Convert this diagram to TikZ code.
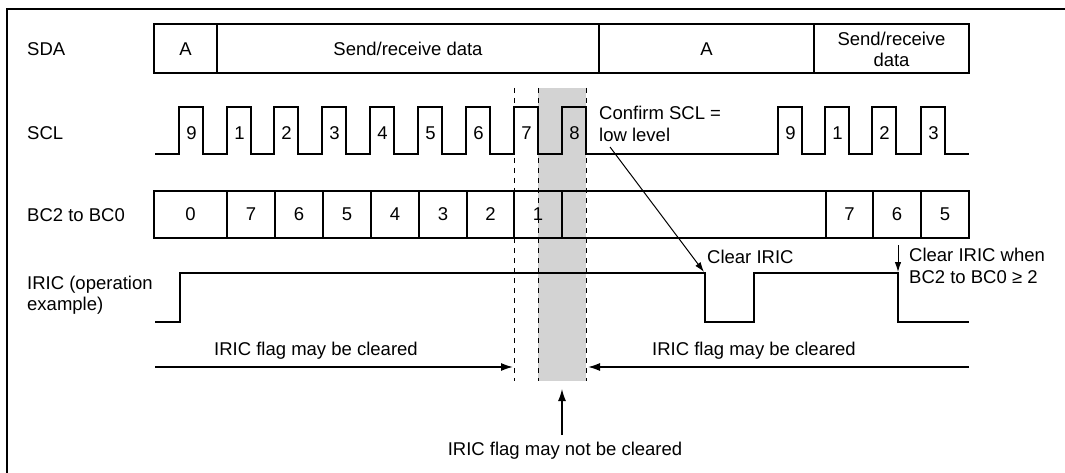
\documentclass[tikz,border=0pt]{standalone}
\usepackage{fontspec}
\setmainfont{Liberation Sans}
\usetikzlibrary{arrows.meta}
\definecolor{bandgray}{RGB}{211,211,211}
\begin{document}
\begin{tikzpicture}[x=1pt,y=-1pt,
  every node/.style={font=\fontsize{18.5}{21.5}\selectfont, inner sep=0pt},
  sig/.style={line width=2pt, line join=miter},
  frame/.style={line width=2.4pt},
  guide/.style={line width=1pt, dash pattern=on 5pt off 5pt},
  arr/.style={line width=1.6pt, -{Latex[length=12pt,width=8pt]}},
  thinarr/.style={line width=1pt, -{Latex[length=10pt,width=6.5pt]}},
  lbl/.style={anchor=west, align=left},
  ctr/.style={anchor=center, align=center}
]
\useasboundingbox (0,0) rectangle (1065,473);
\fill[fill=bandgray] (538,88) rectangle (586,381);
\draw[frame] (7,480) -- (7,9) -- (1070,9);

% row labels
\node[lbl] (lSDA) at (27,49) {SDA};
\node[lbl] (lSCL) at (27,133) {SCL};
\node[lbl] (lBC) at (27,215) {BC2 to BC0};
\node[lbl] (lIRIC) at (27,295) {IRIC (operation\\example)};

% SDA row
\draw[sig] (154,24) rectangle (969,73);
\foreach \x in {217,599,814} \draw[sig] (\x,24) -- (\x,73);
\node[ctr] (sdaA1) at (185.5,49) {A};
\node[ctr] (sdaD1) at (408,49) {Send/receive data};
\node[ctr] (sdaA2) at (706.5,49) {A};
\node[ctr] (sdaD2) at (891.5,49.5) {Send/receive\\data};

% SCL row
\draw[sig] (155,154) \foreach \r in {179,227,274,322,370,418,466,514,562,778,825,872,921} { -- (\r,154) -- (\r,107) -- (\r+24,107) -- (\r+24,154) } -- (969,154);
\foreach \r/\d [count=\i] in {179/9,227/1,274/2,322/3,370/4,418/5,466/6,514/7,562/8,778/9,825/1,872/2,921/3}
  \node[ctr] (scl\i) at (\r+12.5,133) {\d};

% BC row
\draw[sig] (154,191) rectangle (969,238);
\foreach \x in {227,275,323,371,419,467,514,562,826,873,921} \draw[sig] (\x,191) -- (\x,238);
\foreach \x/\d [count=\i] in {190.5/0,251/7,299/6,347/5,395/4,443/3,490.5/2,538/1,849.5/7,897/6,945/5}
  \node[ctr] (bc\i) at (\x,214.5) {\d};

% IRIC row
\draw[sig] (155,322) -- (180,322) -- (180,273) -- (705,273) -- (705,322) -- (754,322) -- (754,273) -- (898,273) -- (898,322) -- (969,322);

% guides
\foreach \x in {514,538,586} \draw[guide] (\x,88) -- (\x,381);

% annotations
\node[lbl] (confirm) at (599,124) {Confirm SCL =\\low level};
\coordinate (cfrom) at (610,147);
\coordinate (clrto) at (704,272);
\draw[thinarr] (cfrom) -- (clrto);
\node[lbl] (clrA) at (707,257) {Clear IRIC};
\node[lbl] (clrB) at (909,266) {Clear IRIC when\\BC2 to BC0 ≥ 2};
\coordinate (dfrom) at (898,245);
\coordinate (dto) at (898,272);
\draw[thinarr] (dfrom) -- (dto);

% bottom arrows
\coordinate (l1) at (155,367);
\coordinate (l2) at (513,367);
\draw[arr] (l1) -- (l2);
\node[ctr] (mayL) at (316,351) {IRIC flag may be cleared};
\coordinate (r1) at (969,367);
\coordinate (r2) at (588,367);
\draw[arr] (r1) -- (r2);
\node[ctr] (mayR) at (754,351) {IRIC flag may be cleared};
\node[ctr] (maynot) at (565,451) {IRIC flag may not be cleared};
\coordinate (u1) at (562,435);
\coordinate (u2) at (562,389);
\draw[arr, line width=1.3pt] (u1) -- (u2);
\end{tikzpicture}
\end{document}
